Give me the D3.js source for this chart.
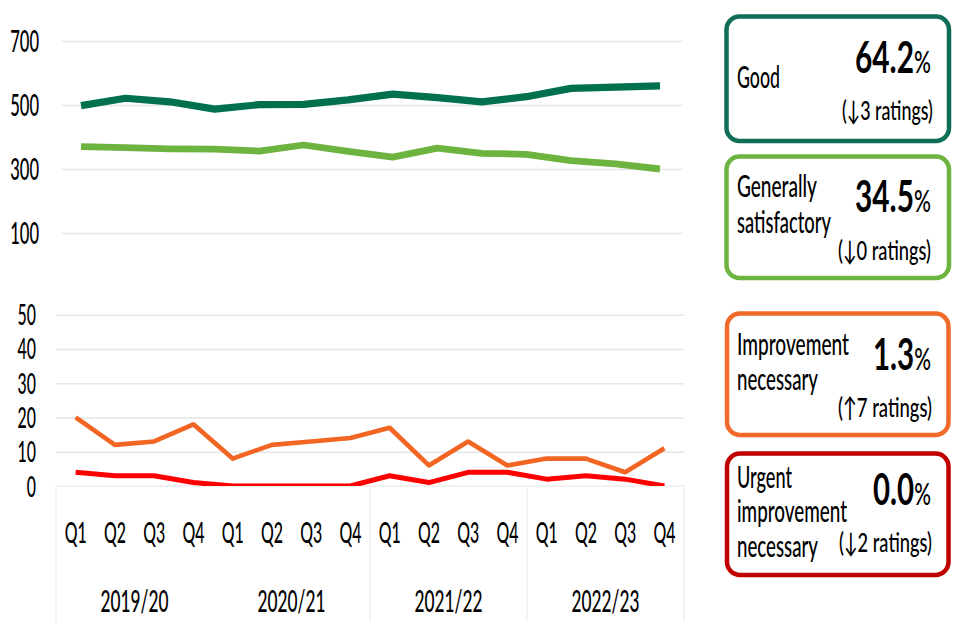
<!DOCTYPE html>
<html><head><meta charset="utf-8">
<script src="https://cdn.jsdelivr.net/npm/d3@7/dist/d3.min.js"></script>
<style>html,body{margin:0;padding:0;background:#fff;}svg{display:block;}text{font-family:Lato,"Open Sans",sans-serif;fill:#000;}</style>
</head><body>
<script>
// ---- data ----
const quarters = ["Q1","Q2","Q3","Q4","Q1","Q2","Q3","Q4","Q1","Q2","Q3","Q4","Q1","Q2","Q3","Q4"];
const years = ["2019/20","2020/21","2021/22","2022/23"];
const goodValues = [498,521,510,487,501,502,516,534,523,510,526,552,556,560];
const satValues  = [370,367,363,362,356,375,355,337,365,349,346,326,316,300];
const improvementValues = [20,12,13,18,8,12,13,14,17,6,13,6,8,8,4,11];
const urgentValues      = [4,3,3,1,0,0,0,0,3,1,4,4,2,3,2,0];
const topTicks = [100,300,500,700];
const bottomTicks = [0,10,20,30,40,50];
const boxLabels = [["Good"],["Generally","satisfactory"],["Improvement","necessary"],["Urgent","improvement","necessary"]];
const boxPercents = ["64.2","34.5","1.3","0.0"];
const boxChanges = ["(\u21933 ratings)","(\u21930 ratings)","(\u21917 ratings)","(\u21932 ratings)"];

const W = 960, H = 640;
const TW = 500; // regular text weight
const svg = d3.select("body").append("svg").attr("width", W).attr("height", H);

// squeeze a text element horizontally to a given width
function squeeze(el, x, y, width, anchor) {
  const nat = el.node().getComputedTextLength() || width;
  const sx = width / nat;
  let x0 = x;
  if (anchor === "end") x0 = x - width;
  else if (anchor === "middle") x0 = x - width / 2;
  el.attr("x", 0).attr("y", 0).attr("text-anchor", "start")
    .attr("transform", `translate(${x0},${y}) scale(${sx},1)`);
  return el;
}
function txt(g, x, y, s, size, width, anchor, weight) {
  const el = g.append("text").attr("font-size", size).attr("font-weight", weight || TW).text(s);
  return squeeze(el, x, y, width, anchor);
}

// ---- scales ----
const xTop = d3.scalePoint().domain(d3.range(goodValues.length)).range([81, 660]);
const yTop = d3.scaleLinear().domain([100, 700]).range([233, 41]);
const xBand = d3.scaleBand().domain(d3.range(quarters.length)).range([56, 684]);
const xBot = i => xBand(i) + xBand.bandwidth() / 2;
const yBot = d3.scaleLinear().domain([0, 50]).range([486, 314.7]);

// ---- top panel gridlines & axis ----
const gTopGrid = svg.append("g").attr("transform", "translate(61,0)")
  .call(d3.axisLeft(yTop).tickValues(topTicks).tickSize(-622).tickFormat(""));
gTopGrid.select(".domain").remove();
gTopGrid.selectAll("line").attr("stroke", "#e6e6e6").attr("stroke-width", 1.5);

const gTopAx = svg.append("g")
  .call(d3.axisLeft(yTop).tickValues(topTicks).tickSize(0).tickFormat(d3.format("d")));
gTopAx.select(".domain").remove();
gTopAx.selectAll("text").each(function(d) {
  const s = String(d);
  const el = d3.select(this).attr("font-size", 30).attr("font-weight", TW)
    .attr("font-family", "Lato").attr("fill", "#000").attr("dy", null);
  squeeze(el, 39, 10.5, s.length * 9.6, "end");
});

// ---- bottom panel gridlines & axis ----
const gBotGrid = svg.append("g").attr("transform", "translate(56,0)")
  .call(d3.axisLeft(yBot).tickValues(bottomTicks.filter(d => d > 0)).tickSize(-628).tickFormat(""));
gBotGrid.select(".domain").remove();
gBotGrid.selectAll("line").attr("stroke", "#e6e6e6").attr("stroke-width", 1.5);

const gBotAx = svg.append("g")
  .call(d3.axisLeft(yBot).tickValues(bottomTicks).tickSize(0).tickFormat(d3.format("d")));
gBotAx.select(".domain").remove();
gBotAx.selectAll("text").each(function(d) {
  const s = String(d);
  const el = d3.select(this).attr("font-size", 28).attr("font-weight", TW)
    .attr("font-family", "Lato").attr("fill", "#000").attr("dy", null);
  squeeze(el, 36, 10, s.length * 9.2, "end");
});

// category axis frame
const axisY = yBot(0);
svg.append("line").attr("x1", 56).attr("x2", 684).attr("y1", axisY).attr("y2", axisY)
  .attr("stroke", "#e3e3e3").attr("stroke-width", 1.2);
const sepIdx = [0, 8, 12, 16];
svg.selectAll("line.sep").data(sepIdx).join("line").attr("class", "sep")
  .attr("x1", d => d < 16 ? xBand(d) : xBand.range()[1])
  .attr("x2", d => d < 16 ? xBand(d) : xBand.range()[1])
  .attr("y1", axisY).attr("y2", 622).attr("stroke", "#ececec").attr("stroke-width", 1.2);

const gCat = svg.append("g");
quarters.forEach((q, i) => txt(gCat, xBot(i), 543, q, 29, 22, "middle"));
years.forEach((yv, j) => {
  const cx = (xBand(j * 4) + xBand(j * 4 + 3) + xBand.bandwidth()) / 2;
  txt(gCat, cx, 612, yv, 30, 68, "middle");
});

// ---- lines ----
const lineTop = d3.line().x((d, i) => xTop(i)).y(d => yTop(d));
svg.append("path").datum(satValues).attr("d", lineTop).attr("fill", "none")
  .attr("stroke", "#6db33f").attr("stroke-width", 6.8).attr("stroke-linejoin", "round");
svg.append("path").datum(goodValues).attr("d", lineTop).attr("fill", "none")
  .attr("stroke", "#00704f").attr("stroke-width", 7.2).attr("stroke-linejoin", "round");

svg.append("clipPath").attr("id", "botclip").append("rect")
  .attr("x", 40).attr("y", 290).attr("width", 660).attr("height", axisY - 290);
const lineBot = d3.line().x((d, i) => xBot(i)).y(d => yBot(d));
const gBotLines = svg.append("g").attr("clip-path", "url(#botclip)");
gBotLines.append("path").datum(improvementValues).attr("d", lineBot).attr("fill", "none")
  .attr("stroke", "#f26522").attr("stroke-width", 4.6).attr("stroke-linejoin", "round");
gBotLines.append("path").datum(urgentValues).attr("d", lineBot).attr("fill", "none")
  .attr("stroke", "#ff0000").attr("stroke-width", 5).attr("stroke-linejoin", "round");

// ---- boxes ----
const boxColors = ["#0f6e57", "#6db33f", "#f26a2a", "#c00000"];
const boxRects = [[726.5,16.5,222.5,124.5],[726.5,156.5,222.5,121.5],[727,313.5,221.5,121.5],[727,453.5,221.5,121.5]];
const labelBase = [[88],[197,233],[355,390],[488,522,557]];
const labelW = {"Good":43,"Generally":80,"satisfactory":94,"Improvement":112,"necessary":81,"Urgent":55,"improvement":110};
const pctBase = [73, 212, 370, 505];
const pctLeft = [855, 855, 873, 873];
const chgBase = [120, 260, 417, 552];
const chgX = [[842,933],[838,931],[838,932],[839,932]];

const gBox = svg.append("g");
boxRects.forEach((r, k) => {
  gBox.append("rect").attr("x", r[0]).attr("y", r[1]).attr("width", r[2]).attr("height", r[3])
    .attr("rx", 13).attr("fill", "#fff").attr("stroke", boxColors[k]).attr("stroke-width", 4.5);
  boxLabels[k].forEach((s, li) => txt(gBox, 737, labelBase[k][li], s, 31, labelW[s], "start"));
  const t = gBox.append("text");
  t.append("tspan").attr("font-size", 44).attr("font-weight", 700).text(boxPercents[k]);
  t.append("tspan").attr("font-size", 31).attr("font-weight", TW).text("%");
  squeeze(t, pctLeft[k], pctBase[k], 931 - pctLeft[k], "start");
  txt(gBox, chgX[k][0], chgBase[k], boxChanges[k], 27, chgX[k][1] - chgX[k][0], "start");
});
</script>
</body></html>
